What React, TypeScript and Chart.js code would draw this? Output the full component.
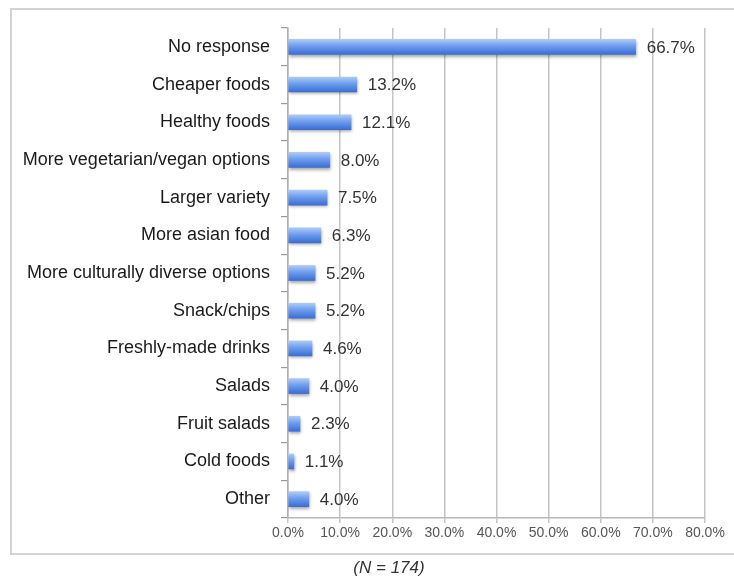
import React, { useEffect, useRef } from "react";
import { Chart, registerables } from "chart.js";

Chart.register(...registerables);

const categories = [
  "No response",
  "Cheaper foods",
  "Healthy foods",
  "More vegetarian/vegan options",
  "Larger variety",
  "More asian food",
  "More culturally diverse options",
  "Snack/chips",
  "Freshly-made drinks",
  "Salads",
  "Fruit salads",
  "Cold foods",
  "Other",
];
const values = [66.7, 13.2, 12.1, 8.0, 7.5, 6.3, 5.2, 5.2, 4.6, 4.0, 2.3, 1.1, 4.0];
const xTicksMax = 80;
const xTickStep = 10;
const caption = "(N = 174)";

const FONT = "'Liberation Sans', Arial, Helvetica, sans-serif";

const shadowPlugin = {
  id: "barShadow",
  beforeDatasetDraw(chart: any) {
    const ctx = chart.ctx;
    ctx.save();
    ctx.shadowColor = "rgba(0,0,0,0.35)";
    ctx.shadowBlur = 3;
    ctx.shadowOffsetX = 1;
    ctx.shadowOffsetY = 2;
  },
  afterDatasetDraw(chart: any) {
    chart.ctx.restore();
  },
};

const labelPlugin = {
  id: "valueLabels",
  afterDatasetsDraw(chart: any) {
    const ctx = chart.ctx;
    const meta = chart.getDatasetMeta(0);
    ctx.save();
    ctx.font = `17px ${FONT}`;
    ctx.fillStyle = "#333333";
    ctx.textAlign = "left";
    ctx.textBaseline = "middle";
    meta.data.forEach((el: any, i: number) => {
      const v = chart.data.datasets[0].data[i] as number;
      ctx.fillText(v.toFixed(1) + "%", el.x + 11, el.y + 1);
    });
    ctx.restore();
  },
};

export default function App() {
  const ref = useRef<HTMLCanvasElement>(null);
  useEffect(() => {
    if (!ref.current) return;
    const chart = new Chart(ref.current, {
      type: "bar",
      data: {
        labels: categories,
        datasets: [
          {
            data: values,
            barThickness: 15,
            borderWidth: 0,
            backgroundColor: (c: any) => {
              const ch = c.chart;
              const ys = ch.scales && ch.scales.y;
              if (!ys || c.dataIndex === undefined) return "#5b8de6";
              const cy = ys.getPixelForValue(c.dataIndex);
              if (!Number.isFinite(cy)) return "#5b8de6";
              const g = ch.ctx.createLinearGradient(0, cy - 7.5, 0, cy + 7.5);
              g.addColorStop(0, "#adcaf7");
              g.addColorStop(0.45, "#6d9ded");
              g.addColorStop(1, "#3b6dd4");
              return g;
            },
          },
        ],
      },
      options: {
        indexAxis: "y",
        animation: false,
        responsive: false,
        maintainAspectRatio: false,
        layout: { padding: { left: 0, top: 28, right: 29, bottom: 0 } },
        plugins: {
          legend: { display: false },
          tooltip: { enabled: false },
        },
        scales: {
          x: {
            min: 0,
            max: xTicksMax,
            ticks: {
              stepSize: xTickStep,
              color: "#555555",
              font: { family: FONT, size: 14 },
              padding: 2,
              callback: (v: any) => Number(v).toFixed(1) + "%",
            },
            grid: {
              color: "#c4c4c4",
              lineWidth: 1.5,
              drawTicks: true,
              tickLength: 5,
            },
            border: { color: "#b8b8b8", width: 1.5 },
            afterFit: (s: any) => {
              s.height = 59;
            },
          },
          y: {
            ticks: {
              color: "#1a1a1a",
              font: { family: FONT, size: 18 },
              padding: 11,
            },
            grid: {
              drawOnChartArea: false,
              drawTicks: true,
              tickLength: 7,
              color: "#9a9a9a",
              lineWidth: 1.2,
            },
            border: { color: "#b0b0b0", width: 1.5 },
            afterFit: (s: any) => {
              s.width = 288;
            },
          },
        },
      },
      plugins: [shadowPlugin, labelPlugin],
    });
    return () => chart.destroy();
  }, []);

  return (
    <div
      style={{
        position: "absolute",
        left: 0,
        top: 0,
        width: 734,
        height: 577,
        overflow: "hidden",
        background: "#ffffff",
      }}
    >
      <div
        style={{
          position: "absolute",
          left: 10,
          top: 8,
          width: 760,
          height: 543,
          border: "2px solid #d3d3d3",
        }}
      />
      <canvas
        ref={ref}
        width={734}
        height={577}
        style={{ position: "absolute", left: 0, top: 0, width: 734, height: 577 }}
      />
      <div
        style={{
          position: "absolute",
          left: 289,
          width: 200,
          top: 558,
          textAlign: "center",
          fontFamily: FONT,
          fontStyle: "italic",
          fontSize: 17,
          color: "#333333",
          lineHeight: "20px",
        }}
      >
        {caption}
      </div>
    </div>
  );
}
